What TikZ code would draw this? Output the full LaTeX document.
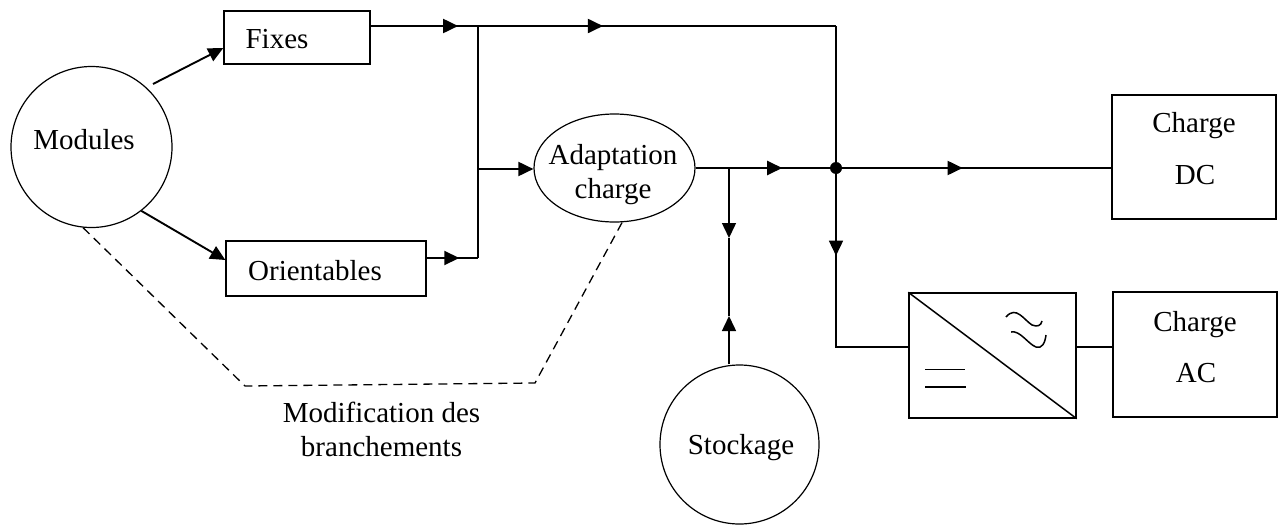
\documentclass[tikz,border=0pt]{standalone}
\usepackage{fontspec}
\setmainfont{Liberation Serif}
\usetikzlibrary{arrows.meta,decorations.markings,shapes.geometric}
\tikzset{
 box/.style={draw,line width=1.4pt,inner sep=0pt},
 circ/.style={draw,circle,line width=1.2pt,inner sep=0pt},
 wire/.style={line width=1.5pt},
 heavy/.style={line width=1.9pt},
 lbl/.style={font=\fontsize{29}{34}\selectfont,inner sep=0pt,align=center},
 mid/.style={postaction={decorate},decoration={markings,mark=at position #1 with {\arrow{Triangle[length=15pt,width=14pt]}}}},
 arr/.style={-{Triangle[length=15pt,width=14pt]}}
}
\begin{document}
\begin{tikzpicture}[x=1pt,y=-1pt]
\useasboundingbox (0,0) rectangle (1279,525);
\fill[white] (0,0) rectangle (1279,525);
\node[circ,minimum size=161pt] (mod) at (91.5,147) {};
\node[lbl] (modl) at (84,140) {Modules};
\node[box,minimum width=146pt,minimum height=53pt] (fix) at (297,37.5) {};
\node[lbl] (fixl) at (277,39) {Fixes};
\node[box,minimum width=200pt,minimum height=55pt] (ori) at (326,268.5) {};
\node[lbl] (oril) at (315,271) {Orientables};
\node[draw,ellipse,line width=1.2pt,minimum width=161pt,minimum height=108pt,inner sep=0pt] (ada) at (614.5,168) {};
\node[lbl] (adal) at (613,158) {Adaptation};
\node[lbl] (adam) at (613,192) {charge};
\node[box,minimum width=164pt,minimum height=124pt] (dc) at (1194,157) {};
\node[lbl] (dcl) at (1194,126) {Charge};
\node[lbl] (dcm) at (1195,175) {DC};
\node[box,minimum width=164pt,minimum height=125pt] (ac) at (1195,354.5) {};
\node[lbl] (acl) at (1195,325) {Charge};
\node[lbl] (acm) at (1196,373) {AC};
\node[box,minimum width=167pt,minimum height=125pt] (conv) at (992.5,355.5) {};
\node[circ,minimum size=159pt] (sto) at (739.5,444.5) {};
\node[lbl] (stol) at (741,448) {Stockage};
\node[lbl] (modt) at (381.5,429) {Modification des\\[0pt]branchements};
\coordinate (j1) at (478,26);
\coordinate (j2) at (478,169);
\coordinate (j3) at (836,26);
\coordinate (j4) at (836,168);
\coordinate (j5) at (729,168);
\coordinate (j6) at (478,258);
\coordinate (d1) at (245,386);
\coordinate (d2) at (535,383);
\coordinate (c1) at (836,347);
\coordinate (c2) at (729,238);
\coordinate (c3) at (729,316);
\coordinate (m1) at (153,84);
\draw[heavy,mid=0.815] (fix.east |- j1) -- (j1);
\draw[heavy,mid=0.349] (j1) -- (j3);
\draw[wire] (j3) -- (j4);
\draw[wire] (j1) -- (j6);
\draw[heavy,mid=0.635] (ori.east |- j6) -- (j6);
\draw[heavy,arr] (j2) -- (ada.west |- j2);
\draw[heavy,arr] (m1) -- (fix.west |- 0,48);
\draw[heavy,arr] (mod.-52) -- (ori.west |- 0,260);
\draw[heavy,mid=0.617] (ada.east |- j4) -- (j4);
\draw[heavy,mid=0.46] (j4) -- (dc.west |- j4);
\draw[wire,mid=0.349] (j4) -- (c1) -- (conv.west |- c1);
\draw[wire,arr] (j5) -- (c2);
\draw[wire] (c2) -- (c3);
\draw[wire,arr] (sto.north -| c3) -- (c3);
\draw[wire] (conv.east |- c1) -- (ac.west |- c1);
\draw[wire] (conv.north west) -- (conv.south east);
\draw[heavy] (925,369.5) -- (965,369.5);
\draw[wire] (925,387) -- (966,387);
\draw[wire] (1006,317) .. controls (1016,305) and (1024,320) .. (1032,325) .. controls (1037,327) and (1041,326) .. (1042,321);
\draw[wire] (1011,332) .. controls (1020,330) and (1028,344) .. (1036,347) .. controls (1042,349) and (1045,343) .. (1046,335);
\fill (j4) circle (6pt);
\draw[line width=1.3pt,dash pattern=on 9pt off 6pt] (mod.264) -- (d1) -- (d2) -- (ada.-82);
\end{tikzpicture}
\end{document}
